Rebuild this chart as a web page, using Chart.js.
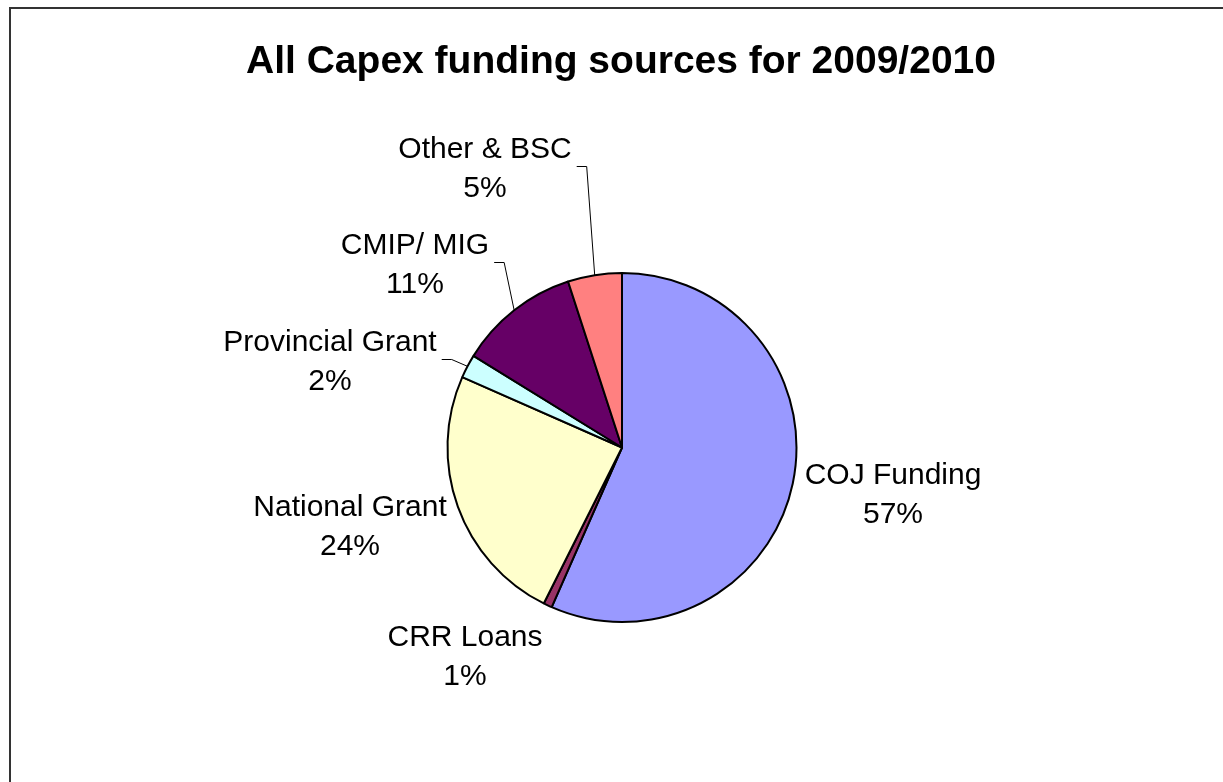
<!DOCTYPE html>
<html>
<head>
<meta charset="utf-8">
<title>All Capex funding sources for 2009/2010</title>
<script src="https://cdn.jsdelivr.net/npm/chart.js@4.4.1/dist/chart.umd.min.js"></script>
<style>
  html, body { margin: 0; padding: 0; background: #fff; }
  canvas { display: block; }
</style>
</head>
<body>
<canvas id="capexChart" width="1223" height="782"></canvas>
<script>
// Data (share of total, %)
const categories = ['COJ Funding', 'CRR Loans', 'National Grant', 'Provincial Grant', 'CMIP/ MIG', 'Other & BSC'];
const shares = [56.6, 0.8, 24.2, 2.2, 11.2, 5.0];
const sliceColors = ['#9999FF', '#993366', '#FFFFCC', '#CCFFFF', '#660066', '#FF8080'];

const FONT = '"Liberation Sans", Arial, sans-serif';

// label block centre, relative to the pie centre; leader = draw a callout line
const labelLayout = [
    { dx: 271, dy: 45, leader: false },
    { dx: -157, dy: 207, leader: false },
    { dx: -272, dy: 77, leader: false },
    { dx: -292, dy: -88, leader: true },
    { dx: -207, dy: -185, leader: true },
    { dx: -137, dy: -281, leader: true }
];

// frame + title + outside labels
const excelLook = {
    id: 'excelLook',
    beforeDraw(chart) {
        const ctx = chart.ctx;
        ctx.save();
        ctx.fillStyle = '#fff';
        ctx.fillRect(0, 0, chart.width, chart.height);
        ctx.strokeStyle = '#333';
        ctx.lineWidth = 2;
        ctx.strokeRect(10, 8, chart.width + 20, chart.height + 20);
        ctx.restore();
    },
    afterDraw(chart) {
        const ctx = chart.ctx;
        ctx.save();
        ctx.fillStyle = '#000';
        ctx.textAlign = 'center';
        ctx.textBaseline = 'alphabetic';
        ctx.font = 'bold 39px ' + FONT;
        ctx.fillText('All Capex funding sources for 2009/2010', 621, 73);

        const arcs = chart.getDatasetMeta(0).data;
        const vals = chart.data.datasets[0].data;
        const total = vals.reduce((a, b) => a + b, 0);
        ctx.font = '30px ' + FONT;
        arcs.forEach((arc, i) => {
            const p = arc.getProps(['x', 'y', 'startAngle', 'endAngle', 'outerRadius'], true);
            const lay = labelLayout[i];
            const cx = p.x + lay.dx;
            const cy = p.y + lay.dy;
            const line1 = chart.data.labels[i];
            const line2 = Math.round(vals[i] / total * 100) + '%';
            // two lines, 39px apart, block centred on cy
            const b1 = cy + 10.5 - 19.5;
            ctx.fillStyle = '#000';
            ctx.fillText(line1, cx, b1);
            ctx.fillText(line2, cx, b1 + 39);

            if (lay.leader) {
                const w = ctx.measureText(line1).width;
                const sx = cx + w / 2 + 5;
                const mid = (p.startAngle + p.endAngle) / 2;
                const ex = p.x + Math.cos(mid) * p.outerRadius;
                const ey = p.y + Math.sin(mid) * p.outerRadius;
                ctx.beginPath();
                ctx.strokeStyle = '#000';
                ctx.lineWidth = 1;
                ctx.moveTo(sx, cy);
                ctx.lineTo(sx + 10, cy);
                ctx.lineTo(ex, ey);
                ctx.stroke();
            }
        });
        ctx.restore();
    }
};

new Chart(document.getElementById('capexChart').getContext('2d'), {
    type: 'pie',
    data: {
        labels: categories,
        datasets: [{
            data: shares,
            backgroundColor: sliceColors,
            borderColor: '#000',
            borderWidth: 2
        }]
    },
    options: {
        responsive: false,
        animation: false,
        radius: 174.5,
        layout: {
            padding: { left: 21, right: 0, top: 113, bottom: 0 }
        },
        plugins: {
            legend: { display: false },
            tooltip: { enabled: false },
            title: { display: false }
        }
    },
    plugins: [excelLook]
});
</script>
</body>
</html>
